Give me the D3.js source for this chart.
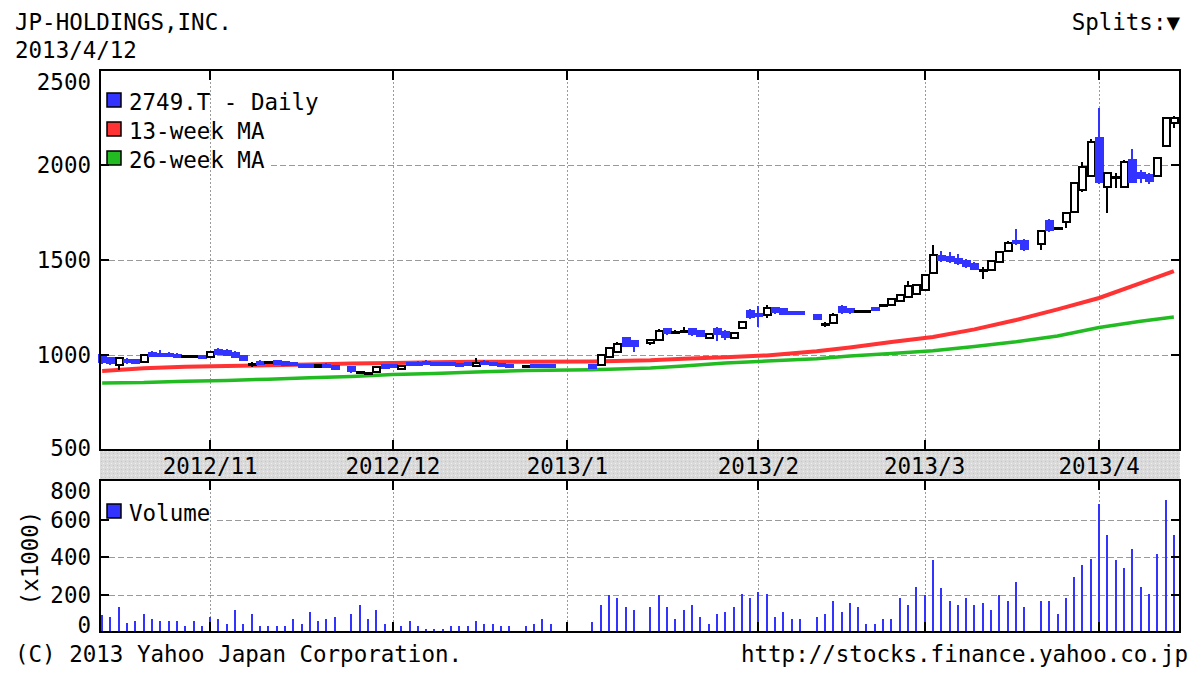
<!DOCTYPE html>
<html>
<head>
<meta charset="utf-8">
<script src="https://cdn.jsdelivr.net/npm/d3@7"></script>
<style>
html, body { margin: 0; padding: 0; background: #fff; }
svg text { font-family: 'DejaVu Sans Mono', monospace; font-size: 22.5px; fill: #000; }
</style>
</head>
<body>
<svg id="chart" width="1200" height="681"></svg>
<script>
(function(){
'use strict';
/* globals d3 */

// trading days (holidays are simply missing)
var days = [
    '2012-10-15','2012-10-16','2012-10-17','2012-10-18','2012-10-19','2012-10-22','2012-10-23','2012-10-24','2012-10-25','2012-10-26','2012-10-29','2012-10-30','2012-10-31',
    '2012-11-01','2012-11-02','2012-11-05','2012-11-06','2012-11-07','2012-11-08','2012-11-09','2012-11-12','2012-11-13','2012-11-14','2012-11-15','2012-11-16','2012-11-19','2012-11-20','2012-11-21','2012-11-22','2012-11-26','2012-11-27','2012-11-28','2012-11-29','2012-11-30',
    '2012-12-03','2012-12-04','2012-12-05','2012-12-06','2012-12-07','2012-12-10','2012-12-11','2012-12-12','2012-12-13','2012-12-14','2012-12-17','2012-12-18','2012-12-19','2012-12-20','2012-12-21','2012-12-25','2012-12-26','2012-12-27','2012-12-28',
    '2013-01-04','2013-01-07','2013-01-08','2013-01-09','2013-01-10','2013-01-11','2013-01-15','2013-01-16','2013-01-17','2013-01-18','2013-01-21','2013-01-22','2013-01-23','2013-01-24','2013-01-25','2013-01-28','2013-01-29','2013-01-30','2013-01-31',
    '2013-02-01','2013-02-04','2013-02-05','2013-02-06','2013-02-07','2013-02-08','2013-02-12','2013-02-13','2013-02-14','2013-02-15','2013-02-18','2013-02-19','2013-02-20','2013-02-21','2013-02-22','2013-02-25','2013-02-26','2013-02-27','2013-02-28',
    '2013-03-01','2013-03-04','2013-03-05','2013-03-06','2013-03-07','2013-03-08','2013-03-11','2013-03-12','2013-03-13','2013-03-14','2013-03-15','2013-03-18','2013-03-19','2013-03-21','2013-03-22','2013-03-25','2013-03-26','2013-03-27','2013-03-28','2013-03-29',
    '2013-04-01','2013-04-02','2013-04-03','2013-04-04','2013-04-05','2013-04-08','2013-04-09','2013-04-10','2013-04-11','2013-04-12'
];

var open = [
    1000,985,945,975,975,965,1010,1005,1005,1000,990,990,995,
    990,1025,1020,1010,995,950,965,960,970,965,960,950,945,935,950,940,935,910,905,910,945,
    945,925,960,960,965,960,960,958,955,960,940,965,960,955,950,937,945,945,948,
    945,950,990,1015,1090,1075,1065,1080,1135,1120,1125,1135,1125,1092,1135,1120,1090,1142,1230,
    1215,1210,1250,1240,1225,1225,1210,1160,1170,1255,1240,1228,1230,1250,1262,1265,1282,1305,1320,
    1342,1432,1520,1515,1505,1495,1480,1447,1450,1490,1545,1600,1600,1585,1705,1668,1700,1755,1870,1940,
    2140,1885,1932,1885,2025,1960,1950,1940,2100,2220
];
var high = [
    1005,990,990,985,980,1005,1020,1025,1015,1010,995,995,1000,
    1020,1035,1030,1020,1000,962,975,965,975,970,965,955,950,955,960,945,940,915,912,940,950,
    950,945,965,970,975,965,965,962,960,965,985,975,965,960,955,945,950,950,952,
    950,1005,1040,1070,1095,1080,1085,1135,1140,1130,1150,1140,1130,1118,1150,1130,1120,1178,1240,
    1260,1265,1255,1245,1230,1232,1215,1175,1220,1265,1250,1235,1238,1255,1268,1300,1320,1390,1375,
    1425,1580,1545,1540,1530,1505,1490,1465,1500,1545,1600,1665,1610,1660,1715,1675,1755,1910,2015,2135,
    2300,1965,1960,2025,2085,1975,1960,2040,2255,2260
];
var low = [
    955,950,920,955,955,960,990,995,990,985,985,985,980,
    985,1000,995,985,970,938,950,955,950,945,940,930,930,930,930,920,905,900,898,905,925,
    930,920,945,945,950,950,945,945,945,945,935,945,940,935,935,930,930,935,932,
    925,945,985,1010,1040,1015,1055,1075,1105,1115,1120,1100,1095,1088,1075,1080,1085,1138,1190,
    1150,1195,1215,1210,1210,1212,1185,1145,1165,1215,1215,1220,1222,1230,1255,1260,1278,1300,1315,
    1340,1425,1490,1485,1475,1460,1445,1400,1440,1485,1540,1580,1550,1555,1650,1660,1668,1750,1860,1935,
    1900,1750,1880,1880,1905,1905,1900,1935,2095,2195
];
var close = [
    965,960,985,965,960,1000,995,1000,995,990,990,990,985,
    1015,1005,1000,990,975,950,955,960,955,950,945,935,935,950,935,925,915,910,905,935,930,
    935,940,950,950,955,955,950,952,950,950,960,955,950,945,940,937,935,940,938,
    930,1000,1035,1060,1050,1045,1080,1128,1115,1120,1125,1110,1100,1112,1110,1095,1115,1172,1200,
    1205,1250,1225,1215,1218,1218,1190,1160,1210,1225,1225,1228,1230,1235,1262,1295,1315,1365,1370,
    1420,1526,1500,1495,1485,1470,1455,1447,1495,1540,1590,1590,1560,1655,1660,1668,1750,1905,1990,2120,
    1910,1958,1932,2015,1912,1930,1915,2035,2250,2250
];
// volume, thousands of shares
var volume = [
    91,82,131,49,58,95,69,58,58,58,31,58,31,
    82,69,45,118,45,95,33,33,33,33,69,45,105,58,69,82,95,142,69,118,45,
    45,33,58,33,15,18,18,33,33,33,58,45,45,33,33,33,45,69,45,
    55,142,196,182,131,118,131,196,131,69,118,142,82,45,95,105,131,205,182,
    215,205,82,105,69,69,82,95,167,105,155,131,45,45,69,69,182,142,242,
    196,382,233,167,142,182,142,155,118,196,167,267,131,167,167,95,182,295,355,391,
    682,518,382,342,442,242,205,415,705,518
];

// moving averages, read once a week
var maDays = [
    '2012-10-15','2012-10-22','2012-10-29','2012-11-05','2012-11-12','2012-11-19','2012-11-26',
    '2012-12-03','2012-12-10','2012-12-17','2012-12-25','2013-01-04','2013-01-15','2013-01-21',
    '2013-01-28','2013-02-04','2013-02-12','2013-02-18','2013-02-25','2013-03-04','2013-03-11',
    '2013-03-18','2013-03-25','2013-04-01','2013-04-08','2013-04-12'
];
var ma13 = [916,930,938,942,946,950,955,958,962,964,965,966,972,980,988,998,1020,1040,1068,1095,1135,1184,1240,1300,1378,1442];
var ma26 = [853,855,862,866,873,880,887,897,902,910,918,922,932,942,958,968,980,995,1008,1022,1045,1070,1100,1145,1178,1200];

var monthDays = ['2012-11-01','2012-12-03','2013-01-01','2013-02-01','2013-03-01','2013-04-01'];
var monthLabels = ['2012/11','2012/12','2013/1','2013/2','2013/3','2013/4'];
var priceTicks = [500, 1000, 1500, 2000, 2500];
var volumeTicks = [0, 200, 400, 600, 800];

var colors = {
    blue: '#3333ff',
    red: '#ff3333',
    green: '#22bb22',
    grid: '#9a9a9a'
};

var svg = d3.select('#chart');
var parse = d3.timeParse('%Y-%m-%d');
var fmt = d3.timeFormat('%Y-%m-%d');

// one slot for each weekday, so holidays leave a gap
var slots = d3.timeDay.range(parse(days[0]), d3.timeDay.offset(parse(days[days.length - 1]), 1))
    .filter(function(d){ return d.getDay() !== 0 && d.getDay() !== 6; })
    .map(fmt);

var box = { left: 100, right: 1180, top: 70, priceBottom: 450, volTop: 480, volBottom: 632 };

var x = d3.scaleBand().domain(slots).range([98, 1178]);
var xc = function(d){ return x(d) + x.bandwidth() / 2; };
var yPrice = d3.scaleLinear().domain([500, 2500]).range([box.priceBottom, box.top]);
var yVol = d3.scaleLinear().domain([0, 800]).range([box.volBottom, 482]);

var defs = svg.append('defs');
var pat = defs.append('pattern')
    .attr('id', 'band').attr('width', 4).attr('height', 4)
    .attr('patternUnits', 'userSpaceOnUse');
pat.append('rect').attr('width', 4).attr('height', 4).attr('fill', '#dadada');
pat.append('rect').attr('x', 1).attr('y', 1).attr('width', 1).attr('height', 1).attr('fill', '#c4c4c4');
pat.append('rect').attr('x', 3).attr('y', 3).attr('width', 1).attr('height', 1).attr('fill', '#f0f0f0');

var g = svg.append('g').attr('shape-rendering', 'crispEdges');

/**
 * Horizontal dashed grid lines for a panel
 */
function hGrid(values, scale){
    g.selectAll(null).data(values).enter().append('line')
        .attr('x1', box.left).attr('x2', box.right)
        .attr('y1', function(d){ return Math.round(scale(d)) + 0.5; })
        .attr('y2', function(d){ return Math.round(scale(d)) + 0.5; })
        .attr('stroke', colors.grid).attr('stroke-width', 1.5)
        .attr('stroke-dasharray', '6,3');
}

/**
 * Vertical dotted grid lines at every month start
 */
function vGrid(y1, y2){
    g.selectAll(null).data(monthDays).enter().append('line')
        .attr('x1', function(d){ return Math.round(xc(d)) + 0.5; })
        .attr('x2', function(d){ return Math.round(xc(d)) + 0.5; })
        .attr('y1', y1).attr('y2', y2)
        .attr('stroke', colors.grid).attr('stroke-width', 1.5)
        .attr('stroke-dasharray', '2,2');
}

/**
 * Legend entry: square + label on a white box
 */
function legendRow(xPos, yBase, color, label){
    var t = svg.append('text').attr('x', xPos + 22).attr('y', yBase).text(label);
    var w = t.node().getComputedTextLength();
    svg.insert('rect', 'text')
        .attr('x', xPos - 2).attr('y', yBase - 20)
        .attr('width', w + 28).attr('height', 26)
        .attr('fill', '#fff');
    svg.append('rect')
        .attr('x', xPos).attr('y', yBase - 17).attr('width', 14).attr('height', 14)
        .attr('fill', color).attr('stroke', '#000').attr('stroke-width', 1.5);
    t.raise();
}

hGrid([1000, 1500, 2000], yPrice);
hGrid([200, 400, 600], yVol);

// legends sit above horizontal grid but below vertical grid
legendRow(107, 110, colors.blue, '2749.T - Daily');
legendRow(107, 139, colors.red, '13-week MA');
legendRow(107, 168, colors.green, '26-week MA');
legendRow(107, 521, colors.blue, 'Volume');

g = svg.insert('g', 'text').attr('shape-rendering', 'crispEdges');
vGrid(box.top, box.priceBottom);
vGrid(box.volTop, box.volBottom);

var plot = svg.append('g');

// moving average lines
var maLine = d3.line()
    .x(function(d){ return xc(d[0]); })
    .y(function(d){ return yPrice(d[1]); });
plot.append('path')
    .attr('d', maLine(d3.zip(maDays, ma26)))
    .attr('fill', 'none').attr('stroke', colors.green).attr('stroke-width', 3.5);
plot.append('path')
    .attr('d', maLine(d3.zip(maDays, ma13)))
    .attr('fill', 'none').attr('stroke', colors.red).attr('stroke-width', 4);

// candles
var idx = d3.range(days.length);
var kind = function(i){
    if (close[i] > open[i]){ return 'up'; }
    if (close[i] < open[i]){ return 'down'; }
    return 'flat';
};
var candles = plot.append('g').attr('shape-rendering', 'crispEdges');

candles.selectAll('line.wick').data(idx).enter().append('line')
    .attr('class', 'wick')
    .attr('x1', function(i){ return Math.round(xc(days[i])); })
    .attr('x2', function(i){ return Math.round(xc(days[i])); })
    .attr('y1', function(i){ return yPrice(high[i]); })
    .attr('y2', function(i){ return yPrice(low[i]); })
    .attr('stroke', function(i){ return kind(i) === 'down' ? colors.blue : '#000'; })
    .attr('stroke-width', 2);

candles.selectAll('rect.body').data(idx).enter().append('rect')
    .attr('class', 'body')
    .attr('x', function(i){
        return Math.round(xc(days[i])) - (kind(i) === 'up' ? 3.5 : 4.5);
    })
    .attr('width', function(i){ return kind(i) === 'up' ? 7 : 9; })
    .attr('y', function(i){
        if (kind(i) === 'flat'){ return yPrice(close[i]) - 1.5; }
        var top = yPrice(Math.max(open[i], close[i]));
        return kind(i) === 'down' ? top - 1 : top;
    })
    .attr('height', function(i){
        if (kind(i) === 'flat'){ return 3; }
        var h = Math.abs(yPrice(open[i]) - yPrice(close[i]));
        return kind(i) === 'down' ? Math.max(4, h + 2) : Math.max(2, h);
    })
    .attr('fill', function(i){
        var k = kind(i);
        return k === 'up' ? '#fff' : (k === 'down' ? colors.blue : '#000');
    })
    .attr('stroke', function(i){ return kind(i) === 'up' ? '#000' : 'none'; })
    .attr('stroke-width', 2);

// volume bars
plot.append('g').attr('shape-rendering', 'crispEdges')
    .selectAll('line').data(idx).enter().append('line')
    .attr('x1', function(i){ return Math.round(xc(days[i])); })
    .attr('x2', function(i){ return Math.round(xc(days[i])); })
    .attr('y1', yVol(0))
    .attr('y2', function(i){ return yVol(volume[i]); })
    .attr('stroke', colors.blue).attr('stroke-width', 2);

// date band between the panels
svg.append('rect')
    .attr('x', box.left).attr('y', box.priceBottom)
    .attr('width', box.right - box.left).attr('height', box.volTop - box.priceBottom)
    .attr('fill', 'url(#band)');

svg.selectAll('text.month').data(monthDays).enter().append('text')
    .attr('class', 'month')
    .attr('x', function(d){ return xc(d); })
    .attr('y', 474)
    .attr('text-anchor', 'middle')
    .text(function(d, i){ return monthLabels[i]; });

// frames
var frame = svg.append('g').attr('fill', 'none').attr('stroke', '#000').attr('stroke-width', 2)
    .attr('shape-rendering', 'crispEdges');
frame.append('rect').attr('x', box.left).attr('y', box.top)
    .attr('width', box.right - box.left).attr('height', box.priceBottom - box.top);
frame.append('rect').attr('x', box.left).attr('y', box.volTop)
    .attr('width', box.right - box.left).attr('height', box.volBottom - box.volTop);

// inner ticks on the frames
function tickMarks(values, scale){
    values.forEach(function(v){
        var y = Math.round(scale(v));
        frame.append('line').attr('x1', box.left).attr('x2', box.left + 9).attr('y1', y).attr('y2', y);
        frame.append('line').attr('x1', box.right - 9).attr('x2', box.right).attr('y1', y).attr('y2', y);
    });
}
tickMarks([1000, 1500, 2000], yPrice);
tickMarks([200, 400, 600], yVol);
monthDays.forEach(function(d){
    var xp = Math.round(xc(d));
    [[box.top, 10], [box.priceBottom, -10], [box.volTop, 10], [box.volBottom, -10]].forEach(function(p){
        frame.append('line').attr('x1', xp).attr('x2', xp).attr('y1', p[0]).attr('y2', p[0] + p[1]);
    });
});

// axis labels, clamped inside the panel height like the original
svg.selectAll('text.py').data(priceTicks).enter().append('text')
    .attr('class', 'py')
    .attr('x', 91)
    .attr('y', function(d){ return Math.min(Math.max(yPrice(d), 82), 448) + 8; })
    .attr('text-anchor', 'end')
    .text(function(d){ return d; });

svg.selectAll('text.vy').data(volumeTicks).enter().append('text')
    .attr('class', 'vy')
    .attr('x', 91)
    .attr('y', function(d){ return Math.min(Math.max(yVol(d), 491), 625) + 8; })
    .attr('text-anchor', 'end')
    .text(function(d){ return d; });

svg.append('text')
    .attr('transform', 'translate(38,558) rotate(-90)')
    .attr('text-anchor', 'middle')
    .text('(x1000)');

// header / footer
svg.append('text').attr('x', 15).attr('y', 30).text('JP-HOLDINGS,INC.');
svg.append('text').attr('x', 15).attr('y', 58).text('2013/4/12');
svg.append('text').attr('x', 1180).attr('y', 30).attr('text-anchor', 'end').text('Splits:\u25BC');
svg.append('text').attr('x', 15).attr('y', 662).text('(C) 2013 Yahoo Japan Corporation.');
svg.append('text').attr('x', 1188).attr('y', 662).attr('text-anchor', 'end')
    .text('http://stocks.finance.yahoo.co.jp');

})();
</script>
</body>
</html>
